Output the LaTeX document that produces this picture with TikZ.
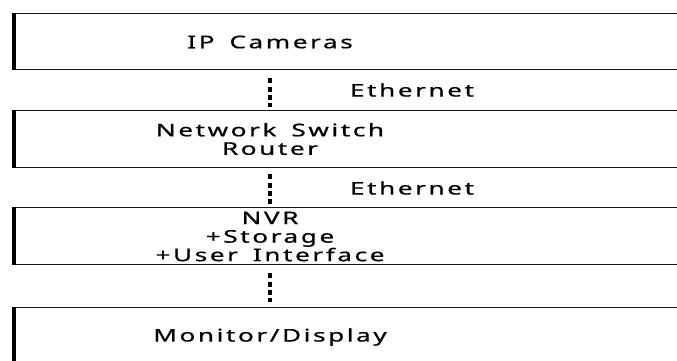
\documentclass[tikz,border=0pt]{standalone}
\usepackage{fontspec}
\newfontfamily\lblfont{Noto Sans}[LetterSpace=10,WordSpace=1.6,FakeBold=0.6]
\begin{document}
\begin{tikzpicture}[x=1pt,y=-1pt,
  box/.style={draw=black!90, line width=1.3pt, rectangle, anchor=north west,
    inner sep=0pt, minimum width=700pt},
  lbl/.style={font=\lblfont\fontsize{17.5}{18.5}\selectfont, align=center,
    text=black, inner sep=0pt, xscale=1.49, transform shape},
  link/.style={line width=3.5pt, dash pattern=on 5pt off 3.3pt, black},
  leftedge/.style={line width=4pt, black}]
\useasboundingbox (0,0) rectangle (677,360);
\clip (0,0) rectangle (677,360);

% layer boxes (they run past the right edge)
\node[box, minimum height=56pt] (b1) at (14,13) {};
\node[box, minimum height=57pt] (b2) at (14,110) {};
\node[box, minimum height=57pt] (b3) at (14,207) {};
\node[box, minimum height=70pt] (b4) at (14,307) {};

% heavy left borders
\draw[leftedge] (b1.north west) -- (b1.south west);
\draw[leftedge] (b2.north west) -- (b2.south west);
\draw[leftedge] (b3.north west) -- (b3.south west);
\draw[leftedge] (b4.north west) -- (b4.south west);

% box captions
\node[lbl] (t1) at (270,42) {IP Cameras};
\node[lbl] (t2) at (270,139) {Network Switch\\Router};
\node[lbl] (t3) at (270,236.5) {NVR\\+Storage\\+User Interface};
\node[lbl] (t4) at (270,337) {Monitor/Display};

% link captions
\node[lbl] (e1) at (412,90) {Ethernet};
\node[lbl] (e2) at (412,188) {Ethernet};

% dashed links between layers
\draw[link] ([yshift=-8pt]b1.south -| t1) -- ([yshift=3pt]b2.north -| t1);
\draw[link] ([yshift=-6pt]b2.south -| t1) -- ([yshift=2pt]b3.north -| t1);
\draw[link] ([yshift=-8pt]b3.south -| t1) -- ([yshift=5pt]b4.north -| t1);
\end{tikzpicture}
\end{document}
